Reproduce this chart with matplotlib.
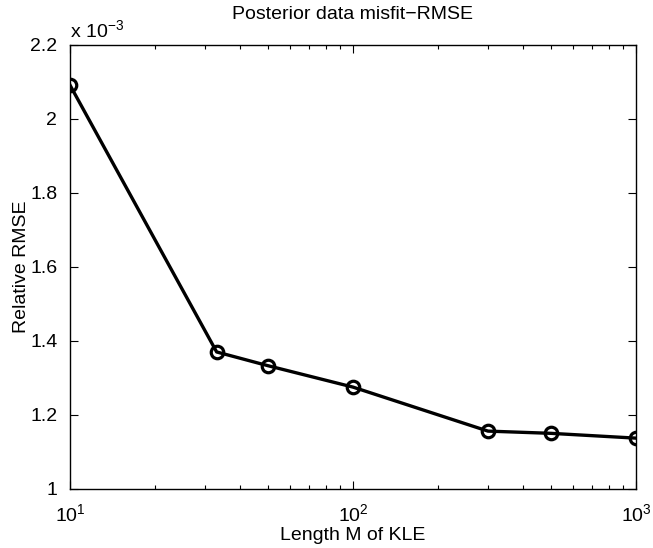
import matplotlib.pyplot as plt
from matplotlib.ticker import FuncFormatter, FixedLocator

plt.rcParams['font.family'] = ['Liberation Sans', 'DejaVu Sans']
plt.rcParams['mathtext.fontset'] = 'custom'
plt.rcParams['mathtext.rm'] = 'Liberation Sans'
plt.rcParams['mathtext.it'] = 'Liberation Sans'

# KLE length and relative RMSE of posterior data misfit
kle_length = [10, 33, 50, 100, 300, 500, 1000]
rel_rmse = [2.092e-3, 1.370e-3, 1.333e-3, 1.275e-3, 1.156e-3, 1.150e-3, 1.137e-3]
y_ticks = [1.0e-3, 1.2e-3, 1.4e-3, 1.6e-3, 1.8e-3, 2.0e-3, 2.2e-3]

fig = plt.figure(figsize=(6.53, 5.48), dpi=100)
ax = fig.add_axes([0.107, 0.108, 0.867, 0.810])

ax.plot(kle_length, rel_rmse, '-o', color='k', linewidth=2.4,
        markersize=9, markerfacecolor='none', markeredgewidth=2.3)

ax.set_xscale('log')
ax.set_xlim(10, 1000)
ax.set_ylim(1.0e-3, 2.2e-3)
ax.yaxis.set_major_locator(FixedLocator(y_ticks))
ax.yaxis.set_major_formatter(FuncFormatter(lambda v, pos: '%g' % round(v * 1e3, 3)))

ax.tick_params(which='both', direction='in', top=True, right=True,
               labelsize=14, width=0.8)
ax.tick_params(axis='y', pad=9)
ax.tick_params(axis='x', pad=10)
ax.tick_params(which='major', length=6)
ax.tick_params(which='minor', length=3)
for side in ax.spines.values():
    side.set_linewidth(1.0)

ax.text(0.0, 1.008, r'x 10$^{-3}$', transform=ax.transAxes,
        fontsize=14, ha='left', va='bottom')
ax.set_title('Posterior data misfit\u2212RMSE', fontsize=14, pad=19)
ax.set_xlabel('Length M of KLE', fontsize=14, labelpad=2)
ax.set_ylabel('Relative RMSE', fontsize=14, labelpad=0)

fig.savefig('out.png', dpi=100)
